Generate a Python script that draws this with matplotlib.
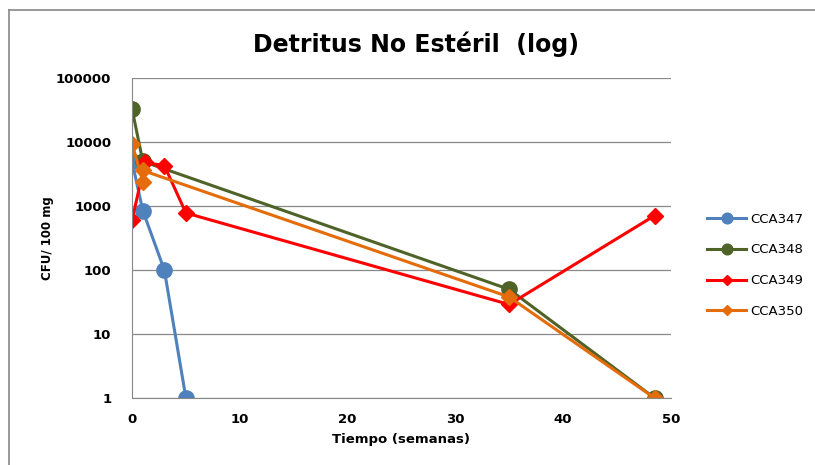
import matplotlib.pyplot as plt
from matplotlib.lines import Line2D
from matplotlib.ticker import FixedLocator, NullLocator

# data
cca347_x = [0, 1, 3, 5]
cca347_y = [5000, 850, 100, 1]
cca348_x = [0, 1, 35, 48.5]
cca348_y = [33000, 5000, 50, 1]
cca349_x = [0, 1.2, 3, 5, 35, 48.5]
cca349_y = [600, 4800, 4300, 780, 29, 710]
cca350_x = [0, 1, 1, 35, 48.5]
cca350_y = [9500, 2400, 3600, 38, 1]

y_ticks = [1, 10, 100, 1000, 10000, 100000]
x_ticks = [0, 10, 20, 30, 40, 50]


def main():
    fig = plt.figure(figsize=(8.15, 4.65), dpi=100)
    ax = fig.add_axes([0.162, 0.144, 0.661, 0.688])

    ax.plot(cca347_x, cca347_y, color='#4F81BD', lw=2.2, marker='o', ms=11,
            label='CCA347')
    ax.plot(cca348_x, cca348_y, color='#4F6228', lw=2.2, marker='o', ms=11,
            label='CCA348')
    ax.plot(cca349_x, cca349_y, color='#FF0000', lw=2.2, marker='D', ms=8,
            label='CCA349')
    ax.plot(cca350_x, cca350_y, color='#E46C0A', lw=2.2, marker='D', ms=8,
            label='CCA350')

    ax.set_yscale('log')
    ax.set_ylim(1, 100000)
    ax.set_xlim(0, 50)
    ax.yaxis.set_major_locator(FixedLocator(y_ticks))
    ax.yaxis.set_minor_locator(NullLocator())
    ax.set_yticks(y_ticks, [str(v) for v in y_ticks])
    ax.set_xticks(x_ticks, [str(v) for v in x_ticks])
    for lbl in ax.get_xticklabels() + ax.get_yticklabels():
        lbl.set_fontweight('bold')
        lbl.set_fontsize(9.5)
    ax.tick_params(axis='y', length=0, pad=15)
    ax.tick_params(axis='x', length=0, pad=11)

    ax.grid(axis='y', color='#888888', lw=0.9)
    ax.set_axisbelow(True)
    for s in ['top', 'right']:
        ax.spines[s].set_visible(False)
    for s in ['left', 'bottom']:
        ax.spines[s].set_color('#888888')

    ax.set_xlabel('Tiempo (semanas)', fontsize=9.5, fontweight='bold', labelpad=5)
    ax.set_ylabel('CFU/ 100 mg', fontsize=8.5, fontweight='bold', labelpad=1)
    fig.text(0.51, 0.905, 'Detritus No Estéril  (log)', ha='center', va='center',
             fontsize=17, fontweight='bold')

    ax.legend(loc='center left', bbox_to_anchor=(1.045, 0.415), frameon=False,
              fontsize=9.5, handlelength=3.0, markerscale=0.7, labelspacing=1.35,
              handletextpad=0.3)

    # chart frame: only top and left edges show in the crop
    fig.add_artist(Line2D([0.011, 1.0], [0.978, 0.978], transform=fig.transFigure,
                          color='#888888', lw=1.2))
    fig.add_artist(Line2D([0.011, 0.011], [0.0, 0.978], transform=fig.transFigure,
                          color='#888888', lw=1.2))

    fig.savefig('out.png', dpi=100)


if __name__ == '__main__':
    main()
